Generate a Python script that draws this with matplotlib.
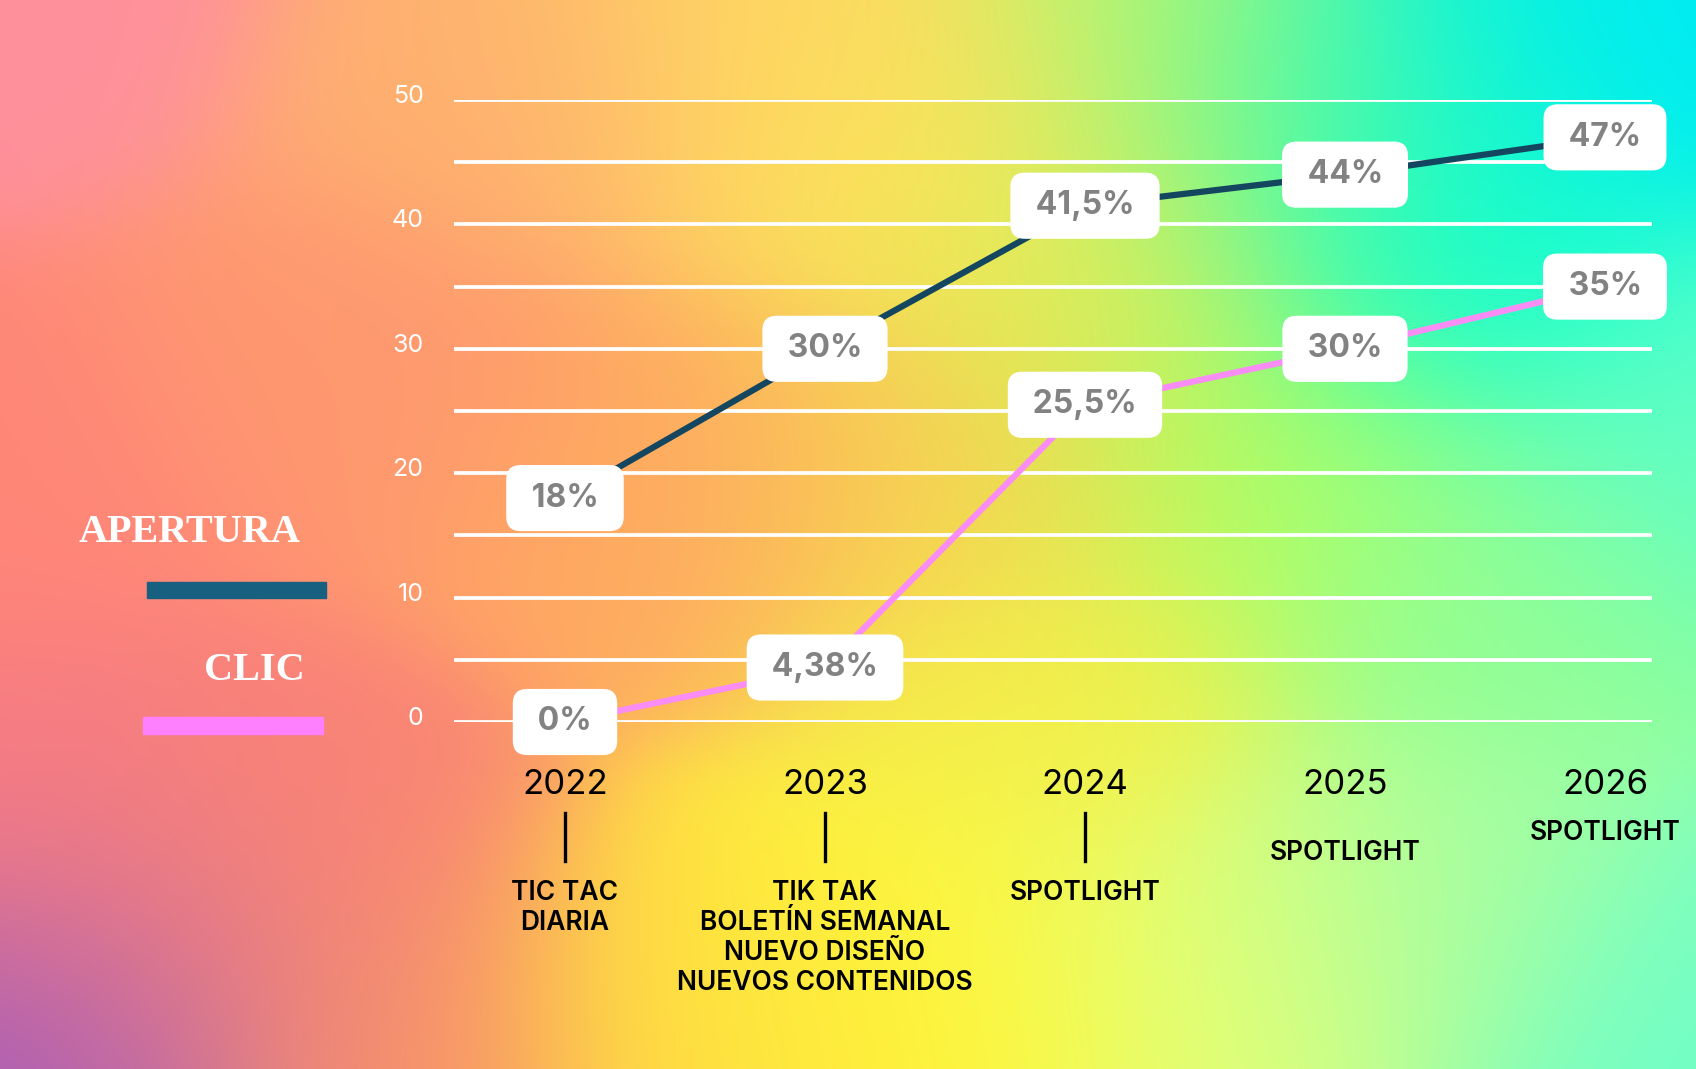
import numpy as np
import matplotlib
matplotlib.use('Agg')
import matplotlib.pyplot as plt
import matplotlib.transforms as mtransforms
from matplotlib.patches import Rectangle

# ---- data ----
years = [2022, 2023, 2024, 2025, 2026]
apertura = [18, 30, 41.5, 44, 47]
clic = [0, 4.38, 25.5, 30, 35]
apertura_labels = ['18%', '30%', '41,5%', '44%', '47%']
clic_labels = ['0%', '4,38%', '25,5%', '30%', '35%']
captions = ['TIC TAC\nDIARIA',
            'TIK TAK\nBOLETÍN SEMANAL\nNUEVO DISEÑO\nNUEVOS CONTENIDOS',
            'SPOTLIGHT', 'SPOTLIGHT', 'SPOTLIGHT']
has_tick = [True, True, True, False, False]
y_ticks = list(range(0, 55, 5))

W, H = 1696, 1069
APER_COLOR = '#14475f'
APER_LEGEND = '#186080'
CLIC_COLOR = '#f98cf5'
CLIC_LEGEND = '#ff80ff'


def fpos(x, y):
    # pixel position (top-left origin) -> figure fraction
    return x / W, 1 - y / H


# ---- background gradient ----
def hexrgb(h):
    h = h.lstrip('#')
    return [int(h[i:i + 2], 16) / 255 for i in (0, 2, 4)]

anchors = [
    (0.00, 0.00, '#ff909c'), (0.00, 0.45, '#ff8678'), (0.00, 1.00, '#9c58c4'),
    (0.00, 0.75, '#f87c84'), (0.06, 0.92, '#d07098'), (0.15, 0.80, '#fa8476'),
    (0.22, 0.97, '#f8906c'), (0.20, 0.35, '#ff9870'),
    (0.30, 0.08, '#ffb070'), (0.40, 0.45, '#ffa862'), (0.45, 0.05, '#ffd862'),
    (0.42, 0.95, '#ffe040'), (0.55, 0.92, '#fff838'), (0.55, 0.15, '#fde458'),
    (0.55, 0.45, '#f8d450'), (0.62, 0.65, '#f4f04a'), (0.66, 0.25, '#d8f058'),
    (0.70, 0.03, '#c8f468'), (0.75, 0.45, '#b0ff60'), (0.72, 0.90, '#e4ff78'),
    (0.78, 0.10, '#40ffa8'), (0.86, 0.03, '#00f4e0'), (0.98, 0.02, '#00eaf8'),
    (0.86, 0.25, '#10ffd0'), (1.00, 0.40, '#60ffc8'), (0.88, 0.55, '#90ff98'),
    (0.85, 0.85, '#a8ffa0'), (1.00, 0.95, '#70ffc8'),
]
gy, gx = np.mgrid[0:1:270j, 0:1:430j]
acc = np.zeros(gx.shape + (3,))
wsum = np.zeros(gx.shape)
for ax_, ay_, c in anchors:
    w = np.exp(-((gx - ax_) ** 2 * 1.6 + (gy - ay_) ** 2) / 0.022)
    acc += w[..., None] * np.array(hexrgb(c))
    wsum += w
bg = np.clip(acc / wsum[..., None], 0, 1)

fig = plt.figure(figsize=(W / 100, H / 100), dpi=100)
bg_ax = fig.add_axes([0, 0, 1, 1], zorder=-10)
bg_ax.imshow(bg, aspect='auto', interpolation='bicubic', extent=(0, 1, 1, 0))
bg_ax.axis('off')

# ---- main axes ----
left, right = 454, 1652
top0, bot0 = 100, 722
ax = fig.add_axes([left / W, 1 - bot0 / H, (right - left) / W, (bot0 - top0) / H])
ax.patch.set_alpha(0)
px_per_year = (1605 - 565) / 4
ax.set_xlim(2022 - (565 - left) / px_per_year, 2026 + (right - 1605) / px_per_year)
ax.set_ylim(0, 50)
for s in ax.spines.values():
    s.set_visible(False)

for v in y_ticks:
    ax.axhline(v, color='white', lw=2.7, zorder=1)

ax.set_yticks(y_ticks)
ax.set_yticklabels([str(v) if v % 10 == 0 else '' for v in y_ticks])
ax.tick_params(axis='y', length=0, pad=22, labelcolor='white', labelsize=18)
for lab in ax.get_yticklabels():
    lab.set_fontfamily('Inter')
    lab.set_transform(lab.get_transform() + mtransforms.ScaledTranslation(0, 6 / 100, fig.dpi_scale_trans))
ax.set_xticks([])

ax.plot(years, apertura, color=APER_COLOR, lw=4.5, zorder=2, solid_capstyle='butt')
ax.plot(years, clic, color=CLIC_COLOR, lw=4.5, zorder=2, solid_capstyle='butt')

box = dict(boxstyle='round,pad=0.55,rounding_size=0.45', fc='white', ec='none')
for x, v, t in zip(years, apertura, apertura_labels):
    ax.text(x, v, ' ' + t + ' ', ha='center', va='center', fontsize=23,
            fontfamily='Inter', fontweight='bold', color='#828282', bbox=box, zorder=3)
for x, v, t in zip(years, clic, clic_labels):
    ax.text(x, v, ' ' + t + ' ', ha='center', va='center', fontsize=23,
            fontfamily='Inter', fontweight='bold', color='#828282', bbox=box, zorder=3)

# ---- year labels, ticks and captions below ----
trans = mtransforms.blended_transform_factory(ax.transData, fig.transFigure)
for i, (yr, cap) in enumerate(zip(years, captions)):
    fig.text(yr, 1 - 785 / H, str(yr), transform=trans, ha='center', va='center',
             fontsize=25, fontfamily='Inter', color='black')
    if has_tick[i]:
        ax.plot([yr, yr], [1 - 813 / H, 1 - 861 / H], transform=trans,
                color='black', lw=2.4, clip_on=False)
        cy = 1 - 880 / H
    else:
        cy = 1 - (840 if yr == 2025 else 820) / H
    fig.text(yr, cy, cap, transform=trans, ha='center', va='top', fontsize=19,
             fontfamily='Inter', fontweight='semibold', color='black', linespacing=1.2)

# ---- legend on the left ----
fig.text(*fpos(190, 533), 'APERTURA', ha='center', va='center', fontsize=29,
         fontfamily='Liberation Serif', fontweight='bold', color='white')
fig.add_artist(Rectangle(fpos(147, 598), 179 / W, 16 / H, transform=fig.transFigure,
                         color=APER_LEGEND))
fig.text(*fpos(254, 671), 'CLIC', ha='center', va='center', fontsize=29,
         fontfamily='Liberation Serif', fontweight='bold', color='white')
fig.add_artist(Rectangle(fpos(143, 734), 180 / W, 17 / H, transform=fig.transFigure,
                         color=CLIC_LEGEND))

fig.savefig('out.png', dpi=100)
